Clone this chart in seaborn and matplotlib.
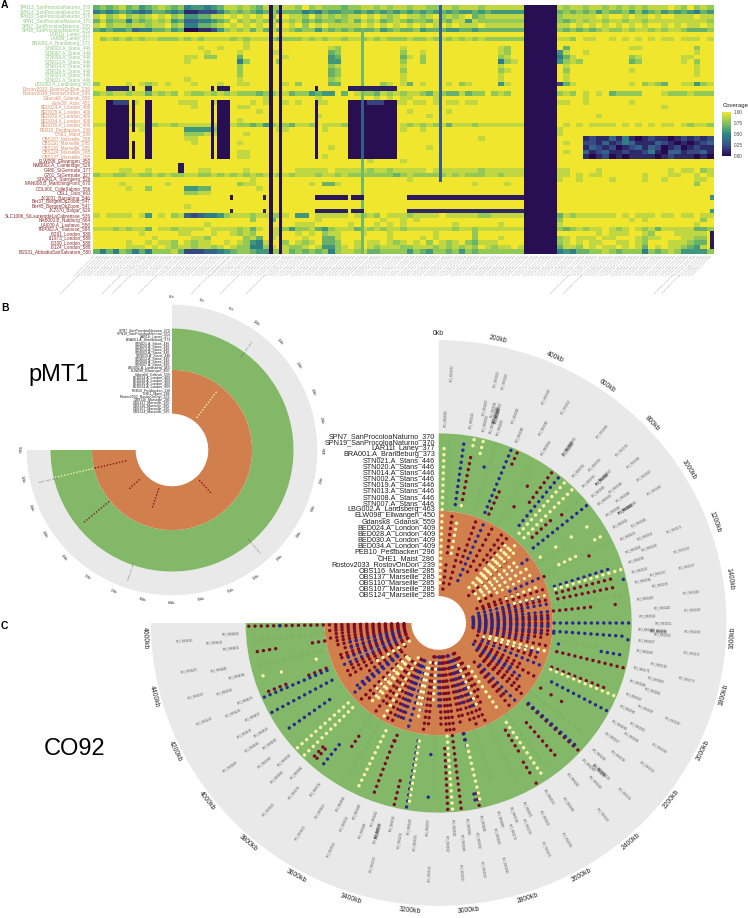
"""Coverage heatmap of virulence genes plus pMT1 and CO92 circular SNP plots."""

import matplotlib
matplotlib.use("Agg")

import matplotlib.pyplot as plt
from matplotlib.colors import LinearSegmentedColormap
import numpy as np
import pandas as pd
import seaborn as sns

sns.set_theme(style="white")
plt.rcParams["font.family"] = ["Liberation Sans", "DejaVu Sans"]

# ============================================================
# DATA - HEATMAP
# ============================================================

GREEN_SAMPLES = [
    "SPN13_SanProcoloaNaturno_370", "SPN14_SanProcoloaNaturno_370", "SPN19_SanProcoloaNaturno_370",
    "SPN1_SanProcoloaNaturno_370", "SPN7_SanProcoloaNaturno_370", "SPN8_SanProcoloaNaturno_370",
    "LAR11t_Laney_377", "LAR89_Laney_377", "BRA001.A_Brandeburg_373",
    "STN002.A_Stans_446", "STN007.A_Stans_446", "STN008.A_Stans_446", "STN013.A_Stans_446",
    "STN014.A_Stans_446", "STN019.A_Stans_446", "STN020.A_Stans_446", "STN021.A_Stans_446",
    "LBG002.A_Landsberg_463",
]
ORANGE_SAMPLES = [
    "Rostov2033_RostovOnDon_239", "Rostov2039_RostovOnDon_239", "Gdansk8_Gdansk_559", "Azov38_Azov_451",
    "BED024.A_London_409", "BED028.A_London_409", "BED030.A_London_409", "BED034.A_London_409",
    "BED035.A_London_409", "PEB10_Pestbacken_296", "CHE1_Maist_286", "OBS107_Marseille_285",
    "OBS110_Marseille_285", "OBS116_Marseille_285", "OBS124_Marseille_285", "OBS137_Marseille_285",
]
RED_SAMPLES = [
    "ELW098_Ellwangen_450", "NMB002.A_Cambridge_526", "G480_StGertrude_377", "G701_StGertrude_327",
    "STA001.A_Starnberg_526", "MAN008.B_ManchingPons_670", "COL001_ColleSabino_556", "OSL1_Oslo_661",
    "JK3031_Barcelona_546", "Ber37_BergenOpZoom_547", "Ber45_BergenOpZoom_547", "JK2370_Bolgar_620",
    "SLC1006_StLaurentdeLaCabrerisse_536", "NAB003.B_Nabburg_664", "LAI009.A_Lashevo_556",
    "TRP002.A_Toulouse_588", "I8291_London_588", "I11973_London_588", "I6330_London_588",
    "I6124_London_588", "BSS31_AbbadiaSanSalvatore_550",
]

# one digit per two gene columns, 0 = no coverage, 9 = full coverage
COVERAGE_ROWS = [
    "6767867567 8767455456 8878768778 8797877767 7887878878 8778878887 8888884477 7878878878 7878788898 79787",
    "4545654346 6545112224 6767656756 6645465566 5656565656 5656565565 6555554342 5676767576 6757567565 65465",
    "8978978789 8978556688 9898989799 8879787878 8989878988 7897878967 8888881577 8788888989 9898898998 88988",
    "6867747678 7856334456 7978787868 7867677678 6878678767 7687688587 7777773577 6767878878 8788788888 88887",
    "8978878878 8978446678 9898989899 8979898888 8989898989 8989898889 8888887897 8889898989 8989899898 98898",
    "6565563446 6756001125 7878686868 7677576767 6667567667 5666556656 6666664533 4767676787 7878878788 76667",
    "9999999999 9999999999 9999999999 9999999999 9999999999 9999999999 9999999999 9999999999 9999999999 99999",
    "9787878788 7778787888 8787888767 7787878878 8787877787 7878787878 7777778687 8887988998 9898989889 88898",
    "9999999999 9999999999 9998999999 9999999999 9999999999 9999999999 9999999999 9999999999 9999999999 99999",
    "9999999999 9999998998 9998999999 9999998799 9999999899 9999999999 9987999999 9969999999 9988999999 99799",
    "9999999999 9999999899 9989999889 9999996799 9999999799 8999999999 9987999999 9589989999 9999999999 99899",
    "9999999999 9999889779 9969999998 9999995699 9999999689 7999999999 9978999999 9468999999 9978999999 88999",
    "9999999999 9999899999 9947999979 9999995599 9999999799 7999999999 9947899999 9578799999 9967999999 89799",
    "9999999999 9999999999 9979999999 9999997899 9999999899 9999999999 9989999999 9989999999 9999999999 99899",
    "9999999999 9999999999 9979999999 9999996799 9999999799 9999999999 9978999999 9979999999 9989999999 99899",
    "9999999999 9999999999 9979999999 9999996799 9999999899 9999999999 9989999999 9989999999 9999999999 99899",
    "9999999999 9999899999 9989999999 9999997899 9999999899 9999999999 9989999999 9989999999 9999999999 99999",
    "7999989878 9899989998 9988999998 9799996699 9999789869 8999897899 9958999999 9268999999 9989787699 88578",
    "9999989999 9999999999 9999999999 9999999999 9999999999 9999999999 9999999999 9999999999 9999999999 99999",
    "7878878868 7879877878 7877767788 6775655969 8776878788 7687668677 9787998799 8787989896 7777999877 78777",
    "9999999999 9999999999 9999998999 9999899999 9998989889 9989999999 9999999999 9999989999 9999999999 99999",
    "9999998989 9998889988 8999898998 9899889999 9889888898 8989889889 9999997888 8889989999 9989999999 99999",
    "9999999999 9999989999 9988999999 9999999999 9999999999 9999999999 9999999999 9999999999 9999999899 99999",
    "9999999999 9999999999 9999989999 9999999999 9999999989 9999899999 9999999999 9999999999 9999999999 99999",
    "9999999999 9999999999 9999999999 9999899999 9999999999 9899999999 9999999999 9999999899 9999999999 99999",
    "9999999999 9999999999 9989999999 9999999999 9999999999 9999999999 9999999989 9999999999 9999999999 99999",
    "8878888877 8878888888 9877675787 6887988878 8878789878 7878688878 8888886878 7989898888 9898989889 87887",
    "9999899889 9999555579 9999999988 9999989999 9999899899 8999999999 9999999999 9899999999 9999999999 99999",
    "9999999999 9999777889 9998999999 9999999999 9999999999 9999999999 9999999999 9899999999 9999999999 99999",
    "9999999999 9999889999 9999999999 9999999999 9999999999 9999999998 9999999999 9999912113 1410121101 21212",
    "9999999999 9999989999 9989999999 9999999999 9999989999 9999999999 9999999999 9989922131 2431113210 10123",
    "9999999999 9999999999 9999999999 9999998999 9999999999 9899999999 9999999999 9999913212 0123132012 01211",
    "9999999999 9999999999 9988999999 9999999999 9999999999 9999999999 9999999999 9989931231 1211241033 12231",
    "9999999999 9999999999 9988999999 9999989999 9999999999 9999999999 9999999999 9999910120 1011110121 11010",
    "9999999999 9999999999 9999999999 9999999999 9989999899 9999999999 9999999999 9999999999 9999999999 99999",
    "9999999999 9999999999 9999999999 9999999999 9999999999 9999999999 9999999999 9999999999 9999999999 99999",
    "9999889989 9999998899 9998999999 9888889888 8878878888 8988888887 8888887689 8889999899 9999999989 88978",
    "7887788778 7877887787 8787878878 7888788787 7777776787 7777878777 8878887788 8889898899 9999899988 99898",
    "9999999999 9999999999 9999899999 9999999999 9999999989 9999999999 9999999799 9899899998 9999899899 99889",
    "9999899999 9899999999 9978899999 9998966899 9999999999 9999999989 9998999999 9999999999 9999999999 99799",
    "9999989979 9999556699 9999989999 9999999999 9999999999 9999999999 9999999999 9999999999 9999999999 99999",
    "9999999999 9999778899 9999999999 9999999999 9999999999 9999999999 9999999999 9999999999 9999999999 99999",
    "9999999999 9999999999 9999999999 9999999999 9999999999 9999999999 9999999999 9999999999 9999999999 99999",
    "9999999999 9999999999 9999999999 9999999999 9999999999 9999999999 9999999999 9999999999 9999999999 99999",
    "9999999999 9999899999 9999999999 9999999999 9999999999 9999999999 9999999999 9999999999 9999999999 99999",
    "9999999999 9999999999 9999999999 9999999999 9999999999 9999999999 9999999999 9999999999 9999999999 99999",
    "8988889859 8978323445 7888788778 9559888889 8787988878 8889888887 7888886878 4687888888 9898889889 88988",
    "9999999999 9999999999 9999799699 9999899999 9999899898 9999999999 9999999979 5799999999 9989899999 99979",
    "9999999999 9999999899 9999999999 9888999998 9998989899 9999989999 9989999999 8899999999 9999999999 99899",
    "8887878869 8878888988 8878689887 5778657888 6878788788 8888878878 8888886878 6767878898 7898786888 88667",
    "9999999899 9998899989 9878799889 9898978899 9899989999 9989999979 9999999999 9999999898 8899879998 88889",
    "9999999998 9999988799 9997869899 9989966899 9999989999 8989999979 9989999999 8789888988 9998788999 88779",
    "9999989989 8879878899 8987548997 9878966799 8988987898 9798789768 8899999999 5789898899 8898799988 87669",
    "9999988898 9878878878 9877447898 7789855789 8987888778 8878787879 8788988899 4688798988 9898698988 76589",
    "6464764647 7786222334 5677655778 6767674788 7866777757 6577675767 7777772577 3454667787 6777476787 55557",
]

# (first row, last row, first column, last column, coverage) painted over the rows above
COVERAGE_BLOCKS = [
    (5, 54, 82, 82, 0.7),
    (0, 54, 54, 54, 0.02), (0, 54, 57, 57, 0.02), (0, 54, 132, 141, 0.02),
    (21, 33, 4, 10, 0.02), (21, 27, 12, 12, 0.02), (30, 33, 12, 12, 0.02), (21, 33, 16, 17, 0.02),
    (21, 33, 36, 36, 0.02), (21, 33, 38, 41, 0.02), (21, 33, 68, 68, 0.02), (21, 33, 78, 92, 0.02),
    (21, 21, 6, 10, 0.2), (21, 21, 84, 88, 0.2), (21, 33, 82, 82, 0.3),
    (18, 18, 4, 10, 0.12), (18, 18, 12, 12, 0.05), (18, 18, 16, 17, 0.12), (18, 18, 36, 36, 0.05),
    (18, 18, 38, 41, 0.05), (18, 18, 68, 68, 0.05), (18, 18, 78, 92, 0.08),
    (0, 38, 106, 106, 0.3), (35, 36, 26, 27, 0.05),
    (42, 42, 42, 42, 0.03), (42, 42, 52, 52, 0.08), (42, 42, 68, 77, 0.05), (42, 42, 79, 82, 0.05),
    (42, 42, 96, 131, 0.06), (42, 42, 189, 189, 0.55),
    (45, 45, 42, 42, 0.08), (45, 45, 52, 52, 0.1), (45, 45, 68, 77, 0.08), (45, 45, 79, 82, 0.08),
    (45, 45, 96, 131, 0.1), (45, 45, 189, 189, 0.55), (50, 53, 189, 189, 0.05),
]

LONG_LABEL_COLS = [1, 14, 17, 25, 41, 50, 58, 151, 155, 183, 185]

# ============================================================
# DATA - CIRCULAR PLOTS
# ============================================================

CIRCLE_SAMPLES = [
    "OBS124_Marseille_285", "OBS107_Marseille_285", "OBS110_Marseille_285", "OBS137_Marseille_285",
    "OBS116_Marseille_285", "Rostov2033_RostovOnDon_239", "CHE1_Maist_286", "PEB10_Pestbacken_296",
    "BED034.A_London_409", "BED030.A_London_409", "BED028.A_London_409", "BED024.A_London_409",
    "Gdansk8_Gdansk_559", "ELW098_Ellwangen_450", "LBG002.A_Landsberg_463", "STN007.A_Stans_446",
    "STN008.A_Stans_446", "STN013.A_Stans_446", "STN019.A_Stans_446", "STN002.A_Stans_446",
    "STN014.A_Stans_446", "STN020.A_Stans_446", "STN021.A_Stans_446", "BRA001.A_Brandeburg_373",
    "LAR11t_Laney_377", "SPN19_SanProcoloaNaturno_370", "SPN7_SanProcoloaNaturno_370",
]

CO92_LENGTH_KB = 4653
CO92_TICKS_KB = list(range(0, 4800, 200))

# (position in kb, first track, last track); track 0 is the innermost sample
CO92_DARK_RED = [
    (120, 1, 5), (120, 7, 13), (258, 2, 8), (500, 5, 13), (603, 6, 13), (810, 2, 10), (1068, 3, 11),
    (1189, 2, 9), (1292, 7, 13), (1516, 1, 13), (1654, 1, 13), (1861, 2, 11), (2016, 2, 10),
    (2171, 3, 11), (2257, 5, 13), (2412, 6, 13), (2584, 2, 8), (2671, 1, 13), (2757, 2, 13),
    (2895, 2, 12), (2964, 1, 13), (3032, 1, 13), (3239, 1, 13), (3532, 2, 13), (3704, 3, 13),
    (3877, 3, 13), (4049, 2, 9), (4170, 1, 12), (4308, 1, 12), (4394, 1, 11), (4514, 1, 13),
    (4583, 1, 13), (4636, 1, 13),
    (1240, 3, 13), (1340, 6, 13), (1410, 1, 9), (1480, 1, 13), (1550, 1, 13), (1620, 1, 13), (1690, 1, 12),
    (1760, 2, 13), (1890, 3, 12), (2060, 3, 13), (2220, 4, 12), (2380, 4, 11), (2630, 1, 10), (2710, 2, 12),
    (2800, 2, 12), (2860, 1, 11), (3000, 1, 13), (3080, 1, 12), (3200, 1, 12), (3470, 2, 12), (3580, 2, 13),
    (3660, 3, 11), (3830, 4, 12), (3990, 3, 11), (4120, 2, 12), (4210, 1, 11), (4340, 1, 12), (4440, 1, 12),
    (4480, 1, 12), (4550, 1, 12), (4610, 1, 12), (340, 6, 13), (660, 8, 13),
    (185, 16, 23), (420, 15, 19), (420, 24, 26), (560, 18, 18), (560, 22, 22), (628, 20, 26),
    (810, 16, 20), (830, 22, 22), (1130, 22, 22), (1135, 14, 14), (1300, 15, 24), (1350, 15, 24),
    (1446, 14, 20), (1446, 24, 24), (1790, 15, 26), (1925, 15, 24), (2120, 15, 15), (2120, 17, 17),
    (2120, 19, 19), (2290, 15, 26), (2398, 17, 24), (2560, 16, 20), (2570, 22, 24), (2570, 26, 26),
    (2890, 14, 15), (2890, 24, 26), (2985, 14, 26), (3055, 16, 26), (3335, 22, 26), (3447, 15, 16),
    (3455, 16, 25), (3817, 23, 25), (3835, 23, 25), (3700, 18, 20), (4270, 15, 18), (4270, 22, 25),
    (4496, 14, 16), (4496, 22, 25), (4636, 14, 26),
]
CO92_BLUE = [
    (413, 3, 13), (930, 4, 13), (1378, 1, 13), (1447, 1, 13), (1585, 1, 13), (1723, 2, 10), (1947, 3, 13),
    (2102, 2, 9), (2343, 5, 13), (2826, 1, 9), (3101, 1, 9), (3377, 3, 13), (3446, 2, 12), (3963, 4, 13),
    (4239, 3, 12), (4445, 2, 10),
    (1130, 8, 13), (1310, 2, 12), (1500, 1, 13), (1570, 1, 13), (1640, 1, 12), (1840, 3, 12), (2130, 3, 11),
    (2730, 2, 10), (3300, 2, 10), (3500, 3, 12), (4000, 4, 12), (4290, 2, 11), (4380, 3, 10),
    (135, 15, 25), (275, 22, 22), (385, 15, 26), (672, 16, 26), (880, 15, 26), (1243, 15, 24), (1318, 26, 26),
    (1551, 14, 26), (1623, 14, 25), (1640, 14, 14), (1640, 26, 26), (1725, 15, 15), (1725, 22, 25),
    (2033, 16, 26), (2280, 15, 25), (2885, 14, 16), (2905, 24, 25), (3160, 17, 17), (3160, 24, 24),
    (3270, 15, 26), (3770, 21, 25), (4040, 17, 25), (4160, 15, 26), (4250, 15, 26), (4636, 21, 21),
]
CO92_CREAM = [
    (172, 7, 12), (690, 3, 12), (758, 4, 13), (879, 3, 11), (999, 3, 12), (1295, 8, 13), (1809, 4, 13),
    (2516, 4, 12), (3170, 2, 8), (3308, 2, 11), (3618, 2, 13), (3791, 3, 12), (4101, 1, 7),
    (730, 5, 12), (800, 5, 12), (930, 4, 11), (1070, 6, 12), (1200, 7, 12), (1850, 3, 10), (2680, 3, 10),
    (3350, 3, 9), (3760, 3, 11), (3840, 3, 10),
    (30, 2, 24), (185, 25, 26), (185, 15, 15), (233, 24, 26), (713, 15, 26), (767, 15, 26),
    (975, 15, 15), (975, 18, 18), (975, 21, 21), (975, 24, 24), (1060, 24, 25), (1098, 17, 20),
    (1265, 15, 26), (1945, 15, 26), (2520, 15, 25), (2880, 16, 25), (3030, 14, 26), (3260, 15, 25),
    (3545, 15, 25), (3877, 15, 26), (3930, 15, 26), (4350, 22, 22), (4360, 25, 25), (4365, 16, 16),
]
CO92_FAINT = [
    (60, 14, 25), (300, 15, 26), (520, 14, 24), (830, 23, 26), (1110, 14, 26), (1400, 14, 25), (1700, 16, 21),
    (2200, 14, 24), (2660, 14, 24), (2790, 14, 22), (3130, 14, 23), (3620, 14, 24), (3720, 14, 19),
    (4420, 15, 25), (4560, 14, 25), (2480, 14, 24), (1000, 14, 20),
]

GENE_NEAR_KB = [
    35, 155, 224, 258, 293, 396, 534, 724, 793, 861, 913, 982, 1051, 1120, 1189, 1241, 1292, 1344, 1430,
    1516, 1585, 1637, 1689, 1775, 1844, 1913, 1981, 2068, 2137, 2240, 2309, 2412, 2550, 2671, 2740, 2808,
    2895, 2964, 3032, 3153, 3239, 3325, 3412, 3498, 3584, 3722, 3842, 3928, 4032, 4101, 4187, 4273,
    4394, 4531, 4600,
]
GENE_MID_KB = [
    207, 241, 267, 345, 482, 620, 758, 827, 896, 948, 999, 1085, 1154, 1206, 1327, 1378, 1482, 1551, 1602,
    1740, 1809, 1861, 1947, 2033, 2085, 2188, 2292, 2343, 2498, 2619, 2705, 2774, 2843, 2929, 2998, 3067,
    3205, 3274, 3377, 3446, 3532, 3653, 3791, 3894, 3980, 4066, 4135, 4239, 4342, 4445, 4566,
]
GENE_FAR_KB = [
    52, 224, 258, 430, 517, 689, 793, 861, 930, 999, 1172, 1258, 1327, 1430, 1499, 1585, 1671, 1775, 1947,
    2068, 2154, 2292, 2412, 2584, 2671, 2843, 2929, 3015, 3136, 3360, 3532, 3670, 3825, 4049, 4256,
    4359, 4463, 4583,
]
GENE_BLOCK_KB = [258, 262, 267, 620, 625, 827, 831, 1000, 1004, 1585, 1590, 2292, 2296, 3377, 3381]

PMT1_LENGTH_KB = 96
PMT1_TICKS_KB = list(range(0, 100, 4))
PMT1_DARK_RED = [(91.3, 3, 13), (82, 14, 24), (49, 1, 6), (70.7, 1, 7), (81, 2, 6)]
PMT1_CREAM = [(13.3, 1, 11), (91.3, 14, 26)]
PMT1_GENES_KB = [13, 49.6, 70.7, 91.2]

ALLELE_COLORS = {"derived": "#7D0B26", "alt": "#28288F", "ref": "#FCF5A8"}

# ============================================================
# STYLE
# ============================================================

COLOR_RING = "#E9E9E9"
COLOR_GREEN = "#83B868"
COLOR_ORANGE = "#D27F4E"
LABEL_GREEN = "#8DC77F"
LABEL_ORANGE = "#DE8E66"
LABEL_RED = "#8A2B2B"
COVERAGE_CMAP = LinearSegmentedColormap.from_list(
    "coverage", ["#27094F", "#38528B", "#2C8A86", "#84C45C", "#F0E62E"])

FIG_W, FIG_H = 748, 918


def px_rect(x0, y0, x1, y1):
    """Axes rectangle in figure fractions from pixel corners (y pointing down)."""
    return [x0 / FIG_W, 1 - y1 / FIG_H, (x1 - x0) / FIG_W, (y1 - y0) / FIG_H]


def spokes_to_frame(spokes, allele, length_kb, offset):
    """Expand (kb, first track, last track) entries to one row per point."""
    rows = []
    for kb, t0, t1 in spokes:
        for t in range(t0, t1 + 1):
            rows.append({"theta": np.radians(kb / length_kb * 270), "r": t + offset, "allele": allele})
    return pd.DataFrame(rows)


def setup_ring_axes(rect, rmax, hole, orange_edge, green_edge):
    ax = fig.add_axes(rect, projection="polar")
    ax.set_theta_zero_location("N")
    ax.set_theta_direction(-1)
    ax.set_aspect("auto")
    for bottom, top, color in [(green_edge, rmax, COLOR_RING), (orange_edge, green_edge, COLOR_GREEN),
                               (hole, orange_edge, COLOR_ORANGE)]:
        ax.bar(0, top - bottom, width=np.radians(270), bottom=bottom, align="edge",
               color=color, linewidth=0)
    return ax


def finish_ring_axes(ax, rmax):
    ax.set(xlabel="", ylabel="")
    ax.set_rlim(0, rmax)
    ax.set_thetalim(0, 2 * np.pi)
    ax.set_axis_off()


def radial_rotation(theta_deg):
    return 90 - theta_deg if theta_deg < 180 else 270 - theta_deg


def tangent_rotation(theta_deg):
    return -theta_deg if theta_deg < 90 else 180 - theta_deg


fig = plt.figure(figsize=(FIG_W / 100, FIG_H / 100), dpi=100, facecolor="white")

# ============================================================
# A. COVERAGE HEATMAP
# ============================================================

samples = GREEN_SAMPLES + ORANGE_SAMPLES + RED_SAMPLES
n_cols = 190
coverage = np.ones((len(samples), n_cols))
for i, row in enumerate(COVERAGE_ROWS):
    digits = row.replace(" ", "").ljust(n_cols // 2, "9")[:n_cols // 2]
    coverage[i] = np.repeat([int(d) / 9 for d in digits], 2)
for r0, r1, c0, c1, value in COVERAGE_BLOCKS:
    coverage[r0:r1 + 1, c0:c1 + 1] = value

gene_labels = [f"YPO_RS{i * 115 + 5:05d}_virulence_gene" for i in range(n_cols)]
for col in LONG_LABEL_COLS:
    gene_labels[col] += "_hypothetical_protein_long"

ax_heat = fig.add_axes(px_rect(93, 5, 713.5, 254))
ax_cbar = fig.add_axes(px_rect(722.3, 111.7, 731.3, 156))
sns.heatmap(pd.DataFrame(coverage, index=samples), cmap=COVERAGE_CMAP, vmin=0, vmax=1,
            ax=ax_heat, cbar_ax=ax_cbar, xticklabels=gene_labels, yticklabels=samples,
            cbar_kws={"ticks": [0, 0.25, 0.5, 0.75, 1]})
ax_heat.tick_params(axis="x", length=0, pad=0.5, labelsize=1.5, labelcolor="#8C8C8C")
ax_heat.tick_params(axis="y", length=0, pad=1.5, labelsize=3.3)
plt.setp(ax_heat.get_xticklabels(), rotation=45, ha="right", rotation_mode="anchor")
plt.setp(ax_heat.get_yticklabels(), rotation=0)
for label, name in zip(ax_heat.get_yticklabels(), samples):
    if name in GREEN_SAMPLES:
        label.set_color(LABEL_GREEN)
    elif name in ORANGE_SAMPLES:
        label.set_color(LABEL_ORANGE)
    else:
        label.set_color(LABEL_RED)

ax_cbar.tick_params(length=0, pad=1.5, labelsize=3.3, labelcolor="#444444")
ax_cbar.set_yticklabels(["0.00", "0.25", "0.50", "0.75", "1.00"])
for spine in ax_cbar.spines.values():
    spine.set_visible(False)
ax_cbar.collections[0].set_edgecolor("face")
fig.text(723 / FIG_W, 1 - 106 / FIG_H, "Coverage", fontsize=4.3, color="#222222", va="center")

# ============================================================
# B. pMT1 PLASMID
# ============================================================

PMT1_OFFSET = 12.2
PMT1_RMAX = 46.5
ax_pmt1 = setup_ring_axes(px_rect(172 - 145.5, 450 - 145.5, 172 + 145.5, 450 + 145.5),
                          PMT1_RMAX, 11.6, 25.6, 38.85)
pmt1_points = pd.concat([spokes_to_frame(PMT1_DARK_RED, "derived", PMT1_LENGTH_KB, PMT1_OFFSET),
                         spokes_to_frame(PMT1_CREAM, "ref", PMT1_LENGTH_KB, PMT1_OFFSET)])
sns.scatterplot(data=pmt1_points, x="theta", y="r", hue="allele", palette=ALLELE_COLORS, s=1.2,
                linewidth=0, legend=False, ax=ax_pmt1, zorder=3)
finish_ring_axes(ax_pmt1, PMT1_RMAX)

for kb in PMT1_TICKS_KB:
    deg = kb / PMT1_LENGTH_KB * 270
    ax_pmt1.text(np.radians(deg), 48.8, f"{kb}kb", fontsize=2.4, color="#333333", ha="center", va="center",
                 rotation=tangent_rotation(deg), rotation_mode="anchor")
for kb in PMT1_GENES_KB:
    deg = kb / PMT1_LENGTH_KB * 270
    ax_pmt1.text(np.radians(deg), 40.5, f"YPMT1_{int(kb * 10):04d}_gene", fontsize=1.6, color="#555555",
                 ha="center", va="center", rotation=radial_rotation(deg), rotation_mode="anchor")
for i, name in enumerate(CIRCLE_SAMPLES):
    ax_pmt1.annotate(name, xy=(0, i + PMT1_OFFSET), xytext=(-1, 0), textcoords="offset points",
                     fontsize=2.5, color="#222222", ha="right", va="center", annotation_clip=False)

# ============================================================
# C. CO92 CHROMOSOME
# ============================================================

CO92_OFFSET = 4.6
CO92_RMAX = 46.4
ax_co92 = setup_ring_axes(px_rect(438.7 - 288, 623 - 283, 438.7 + 288, 623 + 283),
                          CO92_RMAX, 4.4, 18.4, 31.1)
faint_points = spokes_to_frame(CO92_FAINT, "faint", CO92_LENGTH_KB, CO92_OFFSET)
sns.scatterplot(data=faint_points, x="theta", y="r", s=5, facecolor="none", edgecolor="#70A65C",
                linewidth=0.3, alpha=0.7, legend=False, ax=ax_co92, zorder=2)
co92_points = pd.concat([spokes_to_frame(CO92_DARK_RED, "derived", CO92_LENGTH_KB, CO92_OFFSET),
                         spokes_to_frame(CO92_BLUE, "alt", CO92_LENGTH_KB, CO92_OFFSET),
                         spokes_to_frame(CO92_CREAM, "ref", CO92_LENGTH_KB, CO92_OFFSET)])
sns.scatterplot(data=co92_points, x="theta", y="r", hue="allele", palette=ALLELE_COLORS, s=6,
                linewidth=0, legend=False, ax=ax_co92, zorder=3)
finish_ring_axes(ax_co92, CO92_RMAX)

for kb in CO92_TICKS_KB:
    deg = kb / CO92_LENGTH_KB * 270
    ax_co92.text(np.radians(deg), 47.4, f"{kb}kb", fontsize=4.9, color="#2A2A2A", ha="center", va="center",
                 rotation=tangent_rotation(deg), rotation_mode="anchor")
for genes, level, shade in [(GENE_NEAR_KB, 33.6, "#444444"), (GENE_MID_KB, 36.2, "#4C4C4C"),
                            (GENE_FAR_KB, 41.0, "#555555"), (GENE_BLOCK_KB, 35.4, "#333333")]:
    for kb in genes:
        deg = kb / CO92_LENGTH_KB * 270
        ax_co92.text(np.radians(deg), level, f"YPO_RS{kb:05d}", fontsize=1.85, color=shade, ha="center",
                     va="center", rotation=radial_rotation(deg), rotation_mode="anchor")
for i, name in enumerate(CIRCLE_SAMPLES):
    ax_co92.annotate(name, xy=(0, i + CO92_OFFSET), xytext=(-2.5, 0), textcoords="offset points",
                     fontsize=5.25, color="#222222", ha="right", va="center", annotation_clip=False)

# ============================================================
# TEXT
# ============================================================

fig.text(59 / FIG_W, 1 - 375 / FIG_H, "pMT1", fontsize=17, color="black", ha="center", va="center")
fig.text(75 / FIG_W, 1 - 749 / FIG_H, "CO92", fontsize=17, color="black", ha="center", va="center")
for letter, x, y in [("A", 1, 5), ("B", 1, 308), ("C", 1, 626)]:
    fig.text(x / FIG_W, 1 - y / FIG_H, letter, fontsize=7.5, fontweight="bold", color="black", va="center")

fig.savefig("out.png", dpi=100, facecolor="white")
